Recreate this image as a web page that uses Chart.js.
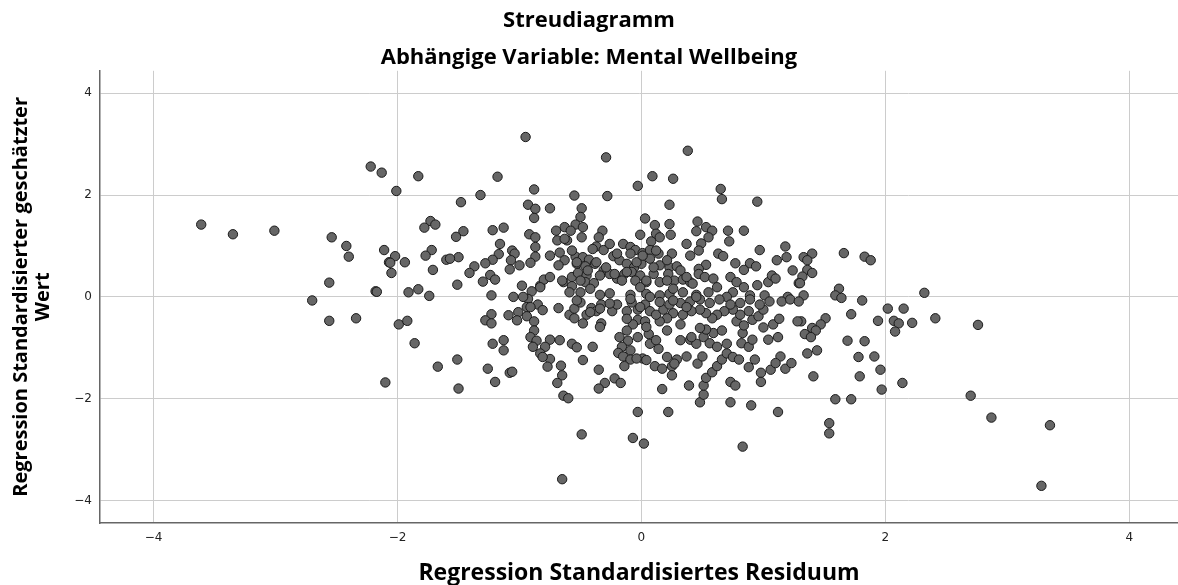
<!DOCTYPE html>
<html>
<head>
<meta charset="utf-8">
<script src="https://cdn.jsdelivr.net/npm/chart.js@4.4.1/dist/chart.umd.min.js"></script>
<style>
  html, body { margin: 0; padding: 0; background: #fff; overflow: hidden; }
  #wrap { width: 1178px; height: 585px; position: relative; }
  canvas { display: block; }
</style>
</head>
<body>
<div id="wrap"><canvas id="c"></canvas></div>
<script>
// Regression Standardisiertes Residuum (x)
const residuals = [
-2.22,-2.13,-1.83,-2.01,-3.61,-3.35,-3.01,-2.54,-2.42,-2.40,
-2.11,-2.02,-2.07,-2.06,-1.94,-2.05,-1.73,-1.69,-1.78,-1.72,
-1.77,-1.60,-1.71,-2.56,-2.18,-2.17,-1.91,-1.83,-1.74,-2.70,
-2.56,-2.34,-1.99,-1.92,-1.86,-1.67,-2.10,-0.95,-0.29,0.38,
-1.18,0.09,0.26,-0.03,-0.88,0.65,-1.32,-0.55,-0.28,0.66,
-1.48,0.95,-0.93,-0.87,-0.75,-0.49,0.23,-0.88,-0.50,0.03,
0.46,0.23,0.11,-0.54,-0.48,-0.63,-0.70,-0.58,-1.22,-1.13,
-1.46,-1.52,-0.32,-0.92,-0.87,-0.01,0.12,0.24,0.45,0.53,
0.58,0.71,0.84,0.55,0.15,0.08,-0.35,-0.49,-0.69,-0.61,
-1.16,-0.87,-0.37,-0.31,-0.15,-0.09,-0.05,0.01,0.07,0.14,
0.37,0.49,0.47,0.72,0.97,1.18,-1.06,-1.04,-1.17,-1.22,
-1.28,-1.37,-1.50,-1.57,-1.07,-0.87,-0.75,-0.67,-0.54,-0.48,
-0.43,-0.63,-0.68,-0.53,-0.46,-0.38,-0.23,-0.18,-0.12,-0.06,
0.00,0.07,0.15,0.23,0.29,0.25,0.40,0.63,0.67,0.77,
0.53,0.47,0.89,0.94,0.84,1.11,1.19,1.24,-1.00,-0.91,
-1.08,-1.41,-1.24,-1.30,-1.20,-1.51,-0.98,-0.90,-0.83,-0.80,
-0.75,-0.64,-0.57,-0.52,-0.45,-0.57,-0.50,-0.46,-0.39,-0.31,
-0.26,-0.20,-0.14,-0.08,-0.01,0.04,0.10,0.15,0.22,0.27,
0.34,0.40,0.47,0.52,0.59,0.62,0.73,0.78,0.75,0.84,
0.95,1.04,1.07,1.10,1.29,-1.23,-1.05,-0.93,-0.34,-0.26,
-0.09,0.04,0.15,0.23,0.34,0.45,0.55,0.70,0.89,1.01,
1.20,1.40,1.33,1.36,1.66,1.83,1.88,1.36,1.40,1.32,
1.30,1.62,1.59,1.64,1.33,1.81,2.32,2.02,2.15,1.72,
1.94,2.07,2.11,2.22,2.41,2.76,2.08,1.31,1.51,1.47,
1.40,1.43,1.34,1.39,1.69,1.83,1.44,1.36,1.78,1.91,
1.96,1.41,1.79,2.14,1.97,1.59,1.72,2.70,1.54,1.54,
2.87,3.35,3.28,-0.85,-0.68,-1.23,-1.28,-1.23,-1.09,-1.01,
-0.94,-1.02,-0.94,-0.88,-0.88,-0.91,-0.86,-0.75,-0.79,-0.83,
-0.75,-0.77,-0.66,-0.65,-0.69,-0.64,-0.60,-1.22,-1.13,-1.13,
-1.51,-1.26,-1.08,-1.20,-1.50,-0.57,-0.53,-0.40,-0.48,-0.35,
-0.30,-0.35,-0.22,-0.17,-0.59,-0.55,-0.55,-0.50,-0.45,-0.41,
-0.37,-0.33,-0.33,-0.24,-0.20,-0.12,-0.08,-0.03,0.03,0.07,
-0.03,0.03,-0.07,-0.12,-0.03,0.06,-0.11,-0.16,-0.09,-0.19,
-0.15,-0.09,-0.14,0.01,0.07,0.14,0.11,0.17,0.25,0.25,
0.29,0.37,0.17,0.39,-0.03,0.22,-0.49,-0.07,0.02,-0.65,
0.83,1.12,0.90,0.73,0.48,0.51,0.51,0.53,0.58,0.62,
0.66,0.70,0.75,0.80,0.73,0.77,0.46,0.50,0.93,0.88,
0.98,0.98,1.06,1.14,1.18,1.23,1.10,0.40,0.45,0.51,
0.56,0.62,0.70,0.59,0.53,0.66,0.48,0.32,0.82,0.88,
0.91,0.83,1.04,1.12,1.00,1.08,1.13,1.28,0.78,0.84,
0.91,0.96,1.00,0.88,0.81,0.75,0.68,0.62,0.58,0.53,
0.48,0.41,0.34,0.26,0.21,0.15,0.12,0.18,0.23,0.32,
0.40,0.48,0.56,0.64,0.73,0.81,0.89,0.97,1.05,1.15,
1.22,1.29
];
// Regression Standardisierter geschätzter Wert (y)
const predicted = [
2.56,2.44,2.37,2.08,1.42,1.23,1.30,1.17,1.00,0.79,
0.92,0.80,0.68,0.67,0.68,0.47,1.49,1.42,1.36,0.92,
0.81,0.73,0.53,0.28,0.11,0.10,0.09,0.15,0.02,-0.07,
-0.47,-0.42,-0.54,-0.47,-0.91,-1.37,-1.68,3.14,2.74,2.87,
2.36,2.37,2.32,2.18,2.11,2.12,2.00,1.99,1.98,1.92,
1.86,1.87,1.81,1.73,1.74,1.74,1.81,1.55,1.57,1.54,
1.48,1.43,1.41,1.42,1.37,1.37,1.30,1.30,1.31,1.36,
1.29,1.18,1.30,1.23,1.17,1.22,1.24,1.22,1.29,1.37,
1.30,1.30,1.30,1.17,1.17,1.09,1.17,1.17,1.11,1.11,
1.04,0.98,0.99,0.92,1.04,0.98,0.92,0.86,0.92,0.85,
1.04,1.05,0.91,1.09,0.92,0.99,0.91,0.85,0.84,0.73,
0.66,0.60,0.78,0.75,0.72,0.79,0.81,0.87,0.79,0.78,
0.73,0.72,0.62,0.65,0.60,0.65,0.80,0.72,0.65,0.58,
0.65,0.75,0.62,0.58,0.60,0.85,0.81,0.85,0.80,0.66,
0.63,0.55,0.66,0.60,0.53,0.72,0.78,0.52,0.62,0.67,
0.54,0.47,0.43,0.30,0.34,0.24,0.22,0.11,0.22,0.34,
0.39,0.29,0.39,0.47,0.42,0.21,0.09,0.29,0.27,0.52,
0.45,0.36,0.45,0.49,0.42,0.29,0.45,0.29,0.45,0.32,
0.34,0.29,0.45,0.39,0.36,0.19,0.39,0.29,0.09,0.19,
0.23,0.29,0.42,0.36,0.27,0.03,0.00,-0.04,0.04,0.07,
0.04,0.06,0.03,0.06,0.09,0.04,0.09,0.00,0.03,0.03,
0.00,0.85,0.78,0.72,0.86,0.79,0.72,0.53,0.47,0.40,
0.27,0.16,0.03,-0.02,0.03,-0.07,0.08,-0.23,-0.23,-0.34,
-0.47,-0.47,-0.52,-0.51,-0.42,-0.55,-0.68,-0.48,-0.42,-0.54,
-0.61,-0.66,-0.73,-0.79,-0.86,-0.87,-1.05,-1.11,-1.18,-1.17,
-1.43,-1.56,-1.56,-1.69,-1.82,-2.01,-2.01,-1.94,-2.48,-2.68,
-2.37,-2.52,-3.71,-0.15,-0.22,-0.34,-0.46,-0.52,-0.36,-0.30,
-0.20,-0.46,-0.38,-0.48,-0.66,-0.79,-0.86,-0.84,-0.98,-1.11,
-1.22,-1.37,-1.35,-1.54,-1.69,-1.94,-1.99,-0.92,-0.85,-1.05,
-1.23,-1.41,-1.49,-1.67,-1.80,-0.92,-0.99,-0.98,-1.24,-1.43,
-1.69,-1.80,-1.60,-1.69,-0.35,-0.42,-0.23,-0.11,-0.35,-0.22,
-0.28,-0.15,-0.52,-0.28,-0.15,-0.28,-0.11,-0.25,-0.15,-0.28,
-0.45,-0.48,-0.54,-0.66,-0.79,-0.73,-0.86,-0.98,-1.05,-1.10,
-1.17,-1.23,-1.36,-1.21,-0.92,-1.02,-1.36,-1.41,-1.36,-1.54,
-1.23,-1.17,-1.81,-1.74,-2.26,-2.26,-2.70,-2.77,-2.88,-3.58,
-2.94,-2.26,-2.13,-2.07,-2.07,-1.92,-1.74,-1.59,-1.48,-1.36,
-1.23,-1.11,-1.18,-1.23,-1.67,-1.74,-1.31,-1.17,-1.23,-1.38,
-1.49,-1.67,-1.43,-1.17,-1.41,-1.30,-1.30,-0.84,-0.92,-0.79,
-0.91,-0.98,-0.92,-0.71,-0.64,-0.66,-0.61,-0.54,-0.91,-0.98,
-0.84,-0.71,-0.84,-0.79,-0.60,-0.54,-0.43,-0.48,-0.48,-0.56,
-0.45,-0.38,-0.25,-0.28,-0.35,-0.25,-0.28,-0.35,-0.42,-0.32,
-0.25,-0.28,-0.35,-0.32,-0.42,-0.48,-0.35,-0.25,-0.15,-0.12,
-0.09,-0.05,-0.12,-0.05,-0.15,-0.12,-0.05,-0.15,-0.09,-0.09,
-0.05,-0.09
];
// additional cases in the dense centre of the cloud
const coreResiduals = [
-0.63,-0.57,-0.53,-0.44,-0.37,-0.34,-0.29,-0.22,-0.16,-0.12,
-0.05,-0.01,0.04,0.10,0.21,0.26,0.32,0.37,0.42,-0.04,
-0.09,0.01,0.12,0.21,-0.20,-0.26,-0.40,-0.50,-0.42,-0.59,
-0.65,-0.83,-0.97,-0.91,-0.81,-0.53,-0.42,-0.34,-0.26,-0.09,
-0.01,0.07,0.15,0.26,0.37,0.45,-0.12,0.04,0.12,0.21,
0.32,0.41,-0.18,-0.04,0.04,0.21,0.27,-0.34,-0.48,-0.67,
-0.89,-0.81,-1.06
];
const corePredicted = [
1.14,0.91,0.68,0.52,0.68,0.42,0.58,0.45,0.32,0.49,
0.32,0.19,0.32,0.58,0.32,0.16,0.52,0.39,0.26,0.68,
0.85,0.81,0.91,0.72,0.85,1.04,0.94,0.32,0.16,0.09,
0.32,0.19,0.00,-0.20,-0.26,-0.07,-0.30,-0.23,-0.13,-0.04,
-0.20,0.00,-0.10,-0.07,-0.20,0.00,-0.43,-0.59,-0.85,-0.66,
-0.85,-0.79,-0.79,-1.21,-1.24,-1.18,-1.31,-0.59,-0.52,-0.85,
-0.98,-1.18,-1.47
];
const xTickValues = [-4, -2, 0, 2, 4];
const xTickLabels = ['\u22124', '\u22122', '0', '2', '4'];
const yTickValues = [-4, -2, 0, 2, 4];
const yTickLabels = ['\u22124', '\u22122', '0', '2', '4'];
const titleText = 'Streudiagramm';
const subtitleText = 'Abhängige Variable: Mental Wellbeing';
const xAxisTitle = 'Regression Standardisiertes Residuum';
const yAxisTitle = ['Regression Standardisierter geschätzter', 'Wert'];

const allX = residuals.concat(coreResiduals);
const allY = predicted.concat(corePredicted);
const points = allX.map((x, i) => ({ x: x, y: allY[i] }));
const TITLE_FONT = '"Open Sans", "Noto Sans", sans-serif';
const TICK_FONT = '"DejaVu Sans", sans-serif';

new Chart(document.getElementById('c'), {
  type: 'scatter',
  data: {
    datasets: [{
      data: points,
      pointRadius: 4.7,
      pointHoverRadius: 4.7,
      pointBackgroundColor: '#666666',
      pointBorderColor: '#1a1a1a',
      pointBorderWidth: 1
    }]
  },
  options: {
    responsive: true,
    maintainAspectRatio: false,
    animation: false,
    devicePixelRatio: 1,
    layout: { padding: 0, autoPadding: false },
    plugins: {
      legend: { display: false },
      tooltip: { enabled: false },
      title: {
        display: true, text: titleText, color: '#000',
        font: { family: TITLE_FONT, size: 22, weight: 'bold', lineHeight: 1.2 },
        padding: { top: 8, bottom: 4 }
      },
      subtitle: {
        display: true, text: subtitleText, color: '#000',
        font: { family: TITLE_FONT, size: 22, weight: 'bold', lineHeight: 1.2 },
        padding: { top: 6, bottom: 0 }
      }
    },
    scales: {
      x: {
        type: 'linear', position: 'bottom', min: -4.44, max: 4.40,
        afterBuildTicks: s => { s.ticks = xTickValues.map(v => ({ value: v })); },
        afterFit: s => { s.height = 62; s.paddingLeft = 0; s.paddingRight = 0; },
        ticks: {
          color: '#222', font: { family: TICK_FONT, size: 12 }, padding: 8,
          callback: v => xTickLabels[xTickValues.indexOf(v)]
        },
        grid: { color: '#cccccc', lineWidth: 1, drawTicks: false },
        border: { display: true, color: '#666', width: 1.5 },
        title: {
          display: true, text: xAxisTitle, color: '#000',
          font: { family: TITLE_FONT, size: 23, weight: 'bold', lineHeight: 1.0 },
          padding: { top: 0, bottom: 0 }
        }
      },
      y: {
        type: 'linear', position: 'left', min: -4.44, max: 4.44,
        afterBuildTicks: s => { s.ticks = yTickValues.map(v => ({ value: v })); },
        afterFit: s => { s.width = 100; s.paddingTop = 0; s.paddingBottom = 0; },
        ticks: {
          color: '#222', font: { family: TICK_FONT, size: 12 }, padding: 8,
          callback: v => yTickLabels[yTickValues.indexOf(v)]
        },
        grid: { color: '#cccccc', lineWidth: 1, drawTicks: false },
        border: { display: true, color: '#666', width: 1.5 },
        title: {
          display: true, text: yAxisTitle, color: '#000',
          font: { family: TITLE_FONT, size: 20, weight: 'bold', lineHeight: 1.1 },
          padding: { top: 10, bottom: 0 }
        }
      }
    }
  }
});
</script>
</body>
</html>
